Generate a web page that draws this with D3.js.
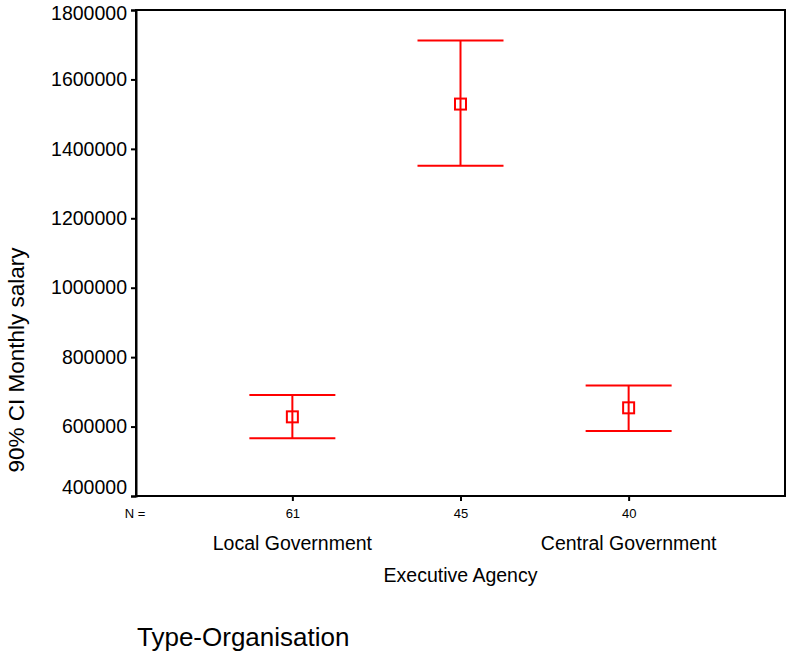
<!DOCTYPE html>
<html>
<head>
<meta charset="utf-8">
<script src="https://cdn.jsdelivr.net/npm/d3@7"></script>
<style>
  html, body { margin: 0; padding: 0; background: #fff; }
  svg { display: block; font-family: Arial, "Liberation Sans", Helvetica, sans-serif; }
</style>
</head>
<body>
<script>
const categories = ["Local Government", "Executive Agency", "Central Government"];
const counts = [61, 45, 40];
const means = [628000, 1529000, 654000];
const lower = [566000, 1351000, 587000];
const upper = [691000, 1712000, 718000];
const yTicks = [400000, 600000, 800000, 1000000, 1200000, 1400000, 1600000, 1800000];
const yLabel = "90% CI Monthly salary";
const nLabel = "N =";
const footerLabel = "Type-Organisation";

(function () {
const W = 787, H = 653;
const pLeft = 136, pRight = 785, pTop = 10, pBottom = 496;

const svg = d3.select("body").append("svg").attr("width", W).attr("height", H);

const x = d3.scalePoint().domain(categories).range([pLeft, pRight]).padding(0.93);
const y = d3.scaleLinear().domain([400000, 1800000]).range([pBottom, pTop]);

// frame
svg.append("rect").attr("x", pLeft).attr("y", pTop).attr("width", pRight - pLeft).attr("height", pBottom - pTop)
  .attr("fill", "none").attr("stroke", "#000").attr("stroke-width", 2);

// y axis
const yAxis = svg.append("g").attr("transform", `translate(${pLeft},0)`)
  .call(d3.axisLeft(y).tickValues(yTicks).tickFormat(d3.format("d")).tickSize(5).tickPadding(4));
yAxis.select(".domain").attr("stroke", "#000").attr("stroke-width", 2);
yAxis.selectAll(".tick line").attr("stroke", "#000").attr("stroke-width", 2);
yAxis.selectAll(".tick text").attr("font-size", 19.5).attr("fill", "#000")
  .attr("font-family", "Arial, 'Liberation Sans', sans-serif")
  .attr("y", d => { const py = y(d); return Math.min(Math.max(py, 13), 487) - py; });

// x axis
const xAxis = svg.append("g").attr("transform", `translate(0,${pBottom})`)
  .call(d3.axisBottom(x).tickSize(5).tickFormat((d, i) => counts[i]).tickPadding(8));
xAxis.select(".domain").remove();
xAxis.selectAll(".tick line").attr("stroke", "#000").attr("stroke-width", 2);
xAxis.selectAll(".tick text").attr("font-size", 13).attr("fill", "#000")
  .attr("font-family", "Arial, 'Liberation Sans', sans-serif");

svg.append("text").attr("x", 135).attr("y", 518).attr("text-anchor", "middle")
  .attr("font-size", 13).text(nLabel);

// category labels (staggered)
svg.selectAll(".cat").data(categories).join("text")
  .attr("class", "cat")
  .attr("x", d => x(d)).attr("y", (d, i) => i % 2 === 0 ? 550 : 582)
  .attr("text-anchor", "middle").attr("font-size", 19.5).attr("fill", "#000")
  .text(d => d);

// y label
svg.append("text").attr("transform", "translate(24,360) rotate(-90)")
  .attr("text-anchor", "middle").attr("font-size", 22.5).attr("fill", "#000").text(yLabel);

// footer
svg.append("text").attr("x", 137).attr("y", 646).attr("font-size", 26).attr("fill", "#000").text(footerLabel);

// error bars
const red = "#ff0000";
const capHalf = 43, boxHalf = 5.5;
const g = svg.append("g").attr("stroke", red).attr("stroke-width", 2).attr("fill", "none");
categories.forEach((c, i) => {
  const cx = x(c);
  g.append("line").attr("x1", cx).attr("x2", cx).attr("y1", y(upper[i])).attr("y2", y(lower[i]));
  g.append("line").attr("x1", cx - capHalf).attr("x2", cx + capHalf).attr("y1", y(upper[i])).attr("y2", y(upper[i]));
  g.append("line").attr("x1", cx - capHalf).attr("x2", cx + capHalf).attr("y1", y(lower[i])).attr("y2", y(lower[i]));
  g.append("rect").attr("x", cx - boxHalf).attr("y", y(means[i]) - boxHalf)
    .attr("width", boxHalf * 2).attr("height", boxHalf * 2);
});
})();
</script>
</body>
</html>
